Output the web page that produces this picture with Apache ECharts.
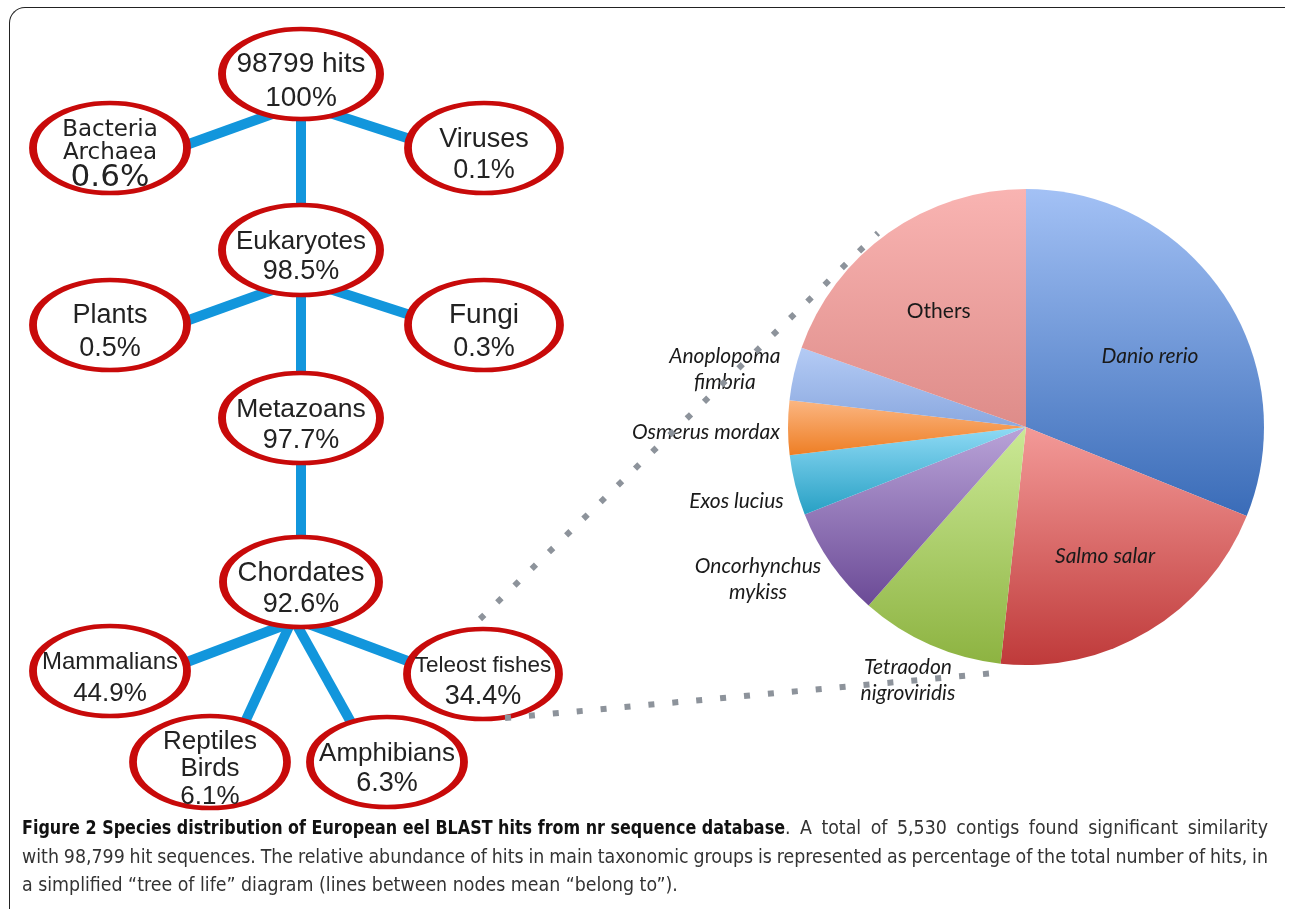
<!DOCTYPE html>
<html>
<head>
<meta charset="utf-8">
<script src="https://cdn.jsdelivr.net/npm/echarts@6/dist/echarts.min.js"></script>
<style>
html, body { margin: 0; padding: 0; background: #fff; }
#wrap { position: relative; width: 1290px; height: 909px; overflow: hidden; }
#chart { position: absolute; left: 0; top: 0; width: 1290px; height: 909px; }
#frame {
  position: absolute; left: 9px; top: 7px; width: 1276px; height: 940px;
  border-top: 1.5px solid #222; border-left: 1.5px solid #222;
  border-top-left-radius: 16px; box-sizing: border-box;
}
#caption {
  position: absolute; left: 22px; top: 814px; width: 1246px;
  font-family: "DejaVu Sans Condensed", "Liberation Sans Narrow", sans-serif;
  font-size: 18.5px; line-height: 28.5px; color: #333;
}
#caption div { white-space: nowrap; }
#caption b { color: #111; display: inline-block; transform-origin: 0 0; word-spacing: 0; }
</style>
</head>
<body>
<div id="wrap">
  <div id="chart"></div>
  <div id="frame"></div>
  <div id="caption">
    <div class="j"><span><b>Figure 2 Species distribution of European eel BLAST hits from nr sequence database</b>. A total of 5,530 contigs found significant similarity</span></div>
    <div class="j"><span>with 98,799 hit sequences. The relative abundance of hits in main taxonomic groups is represented as percentage of the total number of hits, in</span></div>
    <div><span id="last">a simplified “tree of life” diagram (lines between nodes mean “belong to”).</span></div>
  </div>
</div>
<script>
// tree of life nodes
const nodeNames = ['98799 hits', 'Bacteria\nArchaea', 'Viruses', 'Eukaryotes', 'Plants', 'Fungi',
  'Metazoans', 'Chordates', 'Mammalians', 'Teleost fishes', 'Reptiles\nBirds', 'Amphibians'];
const nodePercents = [100, 0.6, 0.1, 98.5, 0.5, 0.3, 97.7, 92.6, 44.9, 34.4, 6.1, 6.3];
const nodeParents = [-1, 0, 0, 0, 3, 3, 3, 6, 7, 7, 7, 7];

// teleost fishes hits by species (pie, % of slice)
const species = ['Danio rerio', 'Salmo salar', 'Tetraodon\nnigroviridis', 'Oncorhynchus\nmykiss',
  'Exos lucius', 'Osmerus mordax', 'Anoplopoma\nfimbria', 'Others'];
const speciesShare = [31.1, 20.6, 9.8, 7.5, 4.1, 3.7, 3.6, 19.6];

// ---- layout (pixels) ----
const nodePos = [[301, 74], [110, 148], [484, 148], [301, 250], [110, 325], [484, 325],
  [301, 418], [301, 582], [110, 671], [483, 674], [210, 762], [387, 762]];
const nodeSize = [[158, 90], [154, 90], [152, 90], [158, 90], [154, 90], [152, 90],
  [158, 90], [156, 90], [154, 90], [152, 90], [154, 92], [154, 90]];
// [name size, percent size, name line height, percent line height, font]
const nodeFont = [
  [28, 28, 34, 34, 'Liberation Sans'], [23, 31, 23, 27, 'DejaVu Sans'], [27, 27, 31, 31, 'Liberation Sans'],
  [26, 27, 30, 30, 'Liberation Sans'], [27, 27, 33, 33, 'Liberation Sans'], [28, 27, 33, 33, 'Liberation Sans'],
  [26.5, 27, 31, 31, 'Liberation Sans'], [27.5, 27, 32, 32, 'Liberation Sans'], [24, 26, 32, 32, 'Liberation Sans'],
  [22.5, 27, 31, 31, 'Liberation Sans'], [26, 26, 27.5, 27.5, 'Liberation Sans'], [26, 27, 30, 30, 'Liberation Sans']
];
// edge ends (parent hub -> child), indexed by child
const edgeEnds = {
  1: [[300, 104], [150, 158]], 2: [[302, 104], [444, 150]], 3: [[301, 110], [301, 225]],
  4: [[300, 280], [150, 334]], 5: [[302, 280], [444, 326]], 6: [[301, 285], [301, 390]],
  7: [[301, 448], [301, 555]], 8: [[298, 620], [150, 676]], 9: [[298, 620], [445, 675]],
  10: [[292, 620], [233, 748]], 11: [[294, 620], [362, 742]]
};
const zoomLines = [[[480, 619], [878, 233]], [[505, 718], [1006, 672]]];

const pieCenter = [1026, 427];
const pieRadius = 238;
const sliceTop = ['#a3c1f5', '#f39a98', '#cbe996', '#b9a3d8', '#8fdaf5', '#fbb682', '#b4cbf5', '#f9b4b2'];
const sliceBottom = ['#3a6cb8', '#bf3a3a', '#8db341', '#6b4a96', '#27a0c4', '#ee7e24', '#8aa8df', '#de8c89'];
const innerLabels = [0, 1, 7];
// fine shift of each pie label [dx, dy]
const labelShift = [[3, 11], [4, 4], [6, -29], [-16, -25], [9, -1], [-12, 4], [-1, 11], [-3, 3]];

const ellipse = 'path://M50,0C77.6,0,100,22.4,100,50C100,77.6,77.6,100,50,100C22.4,100,0,77.6,0,50C0,22.4,22.4,0,50,0Z';

// caption fitting: font size from last line, narrow bold title, manual justify
(function fitCaption() {
  const cap = document.getElementById('caption');
  const last = document.getElementById('last');
  const fs = 18.5 * 656 / last.getBoundingClientRect().width;
  cap.style.fontSize = fs + 'px';
  const b = cap.querySelector('b');
  const w = b.getBoundingClientRect().width;
  b.style.transform = 'scaleX(' + (763 / w) + ')';
  b.style.marginRight = (763 - w) + 'px';
  cap.querySelectorAll('.j').forEach(line => {
    const span = line.firstElementChild;
    let spaces = 0;
    span.childNodes.forEach(n => {
      if (n.nodeType === 3) spaces += (n.textContent.match(/ /g) || []).length;
    });
    const natural = span.getBoundingClientRect().width;
    line.style.wordSpacing = ((1246 - natural) / spaces) + 'px';
  });
})();

const chart = echarts.init(document.getElementById('chart'));

const nodeData = nodeNames.map((name, i) => {
  const f = nodeFont[i];
  return {
    name: name,
    value: nodePos[i],
    symbolSize: nodeSize[i],
    label: {
      rich: {
        n: { fontSize: f[0], lineHeight: f[2], fontFamily: f[4], color: '#222' },
        p: { fontSize: f[1], lineHeight: f[3], fontFamily: f[4], color: '#222' }
      }
    }
  };
});

const edgeData = [];
nodeParents.forEach((p, i) => {
  if (p >= 0) edgeData.push({ coords: edgeEnds[i] });
});

function labelPie(radius, show) {
  return {
    type: 'pie',
    center: pieCenter,
    radius: radius,
    startAngle: 90,
    silent: true,
    avoidLabelOverlap: false,
    z: 5,
    itemStyle: { color: 'rgba(0,0,0,0)', borderWidth: 0 },
    emphasis: { disabled: true },
    labelLine: { show: false },
    label: {
      position: 'inside',
      fontFamily: 'Lato',
      fontStyle: 'italic',
      fontSize: 21,
      lineHeight: 26,
      color: '#1a1a1a'
    },
    labelLayout: p => ({ dx: labelShift[p.dataIndex][0], dy: labelShift[p.dataIndex][1] }),
    data: species.map((s, i) => ({
      name: s,
      value: speciesShare[i],
      label: { show: show(i), fontStyle: s === 'Others' ? 'normal' : 'italic' }
    }))
  };
}

chart.setOption({
  animation: false,
  grid: { left: 0, top: 0, width: 1290, height: 909 },
  xAxis: { type: 'value', min: 0, max: 1290, show: false },
  yAxis: { type: 'value', min: 0, max: 909, inverse: true, show: false },
  series: [
    {
      type: 'lines',
      coordinateSystem: 'cartesian2d',
      z: 1,
      silent: true,
      lineStyle: { color: '#1296dc', width: 10, opacity: 1, cap: 'butt' },
      data: edgeData
    },
    {
      type: 'scatter',
      z: 3,
      silent: true,
      symbol: ellipse,
      itemStyle: { color: '#fff', borderColor: '#c80a0a', borderWidth: 6, opacity: 1 },
      label: {
        show: true,
        position: 'inside',
        offset: [0, 7],
        formatter: p => {
          const i = p.dataIndex;
          const lines = nodeNames[i].split('\n').map(s => '{n|' + s + '}');
          lines.push('{p|' + nodePercents[i] + '%}');
          return lines.join('\n');
        }
      },
      data: nodeData
    },
    {
      type: 'lines',
      coordinateSystem: 'cartesian2d',
      z: 6,
      silent: true,
      lineStyle: { color: '#8d939b', width: 6, opacity: 1, type: [6, 18], cap: 'butt' },
      data: zoomLines.map(c => ({ coords: c }))
    },
    {
      type: 'pie',
      center: pieCenter,
      radius: pieRadius,
      startAngle: 90,
      silent: true,
      z: 2,
      label: { show: false },
      labelLine: { show: false },
      data: species.map((s, i) => ({
        name: s,
        value: speciesShare[i],
        itemStyle: {
          borderWidth: 0,
          color: new echarts.graphic.LinearGradient(0, 0, 0, 1, [
            { offset: 0, color: sliceTop[i] },
            { offset: 1, color: sliceBottom[i] }
          ])
        }
      }))
    },
    labelPie([96, 190], i => innerLabels.indexOf(i) >= 0),
    labelPie([270, 340], i => innerLabels.indexOf(i) < 0)
  ]
});
</script>
</body>
</html>
